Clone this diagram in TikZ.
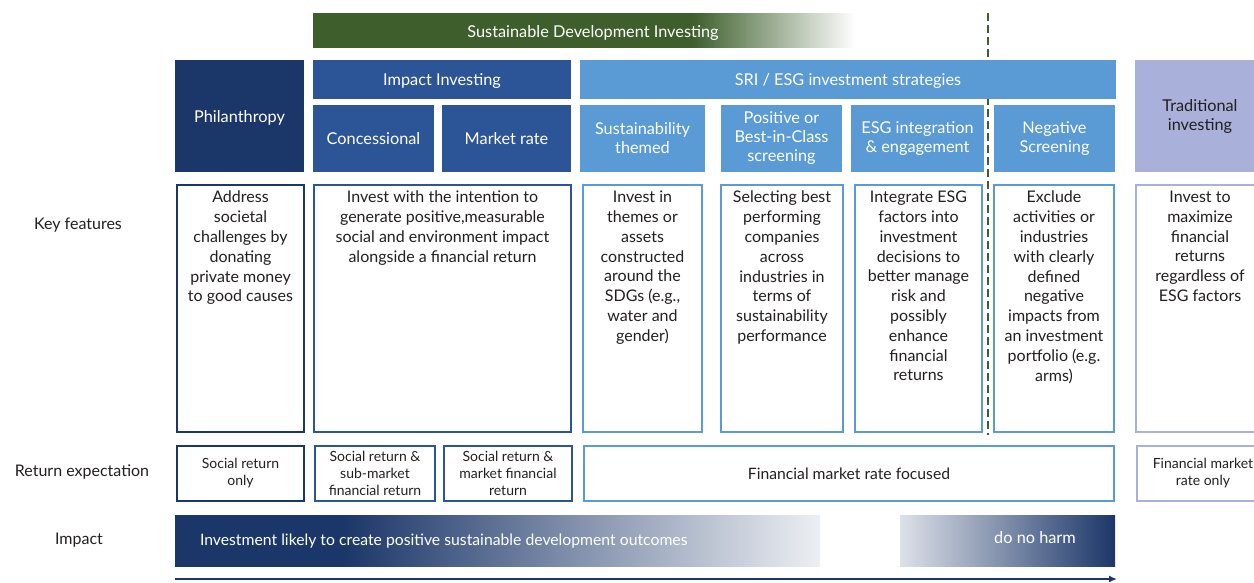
\documentclass[tikz,border=0pt]{standalone}
\usepackage{fontspec}
\setmainfont{Lato}
\usetikzlibrary{arrows.meta}

\definecolor{navy}{HTML}{1B3668}
\definecolor{impblue}{HTML}{2B5597}
\definecolor{esgblue}{HTML}{5B9BD5}
\definecolor{lavender}{HTML}{A9B0DA}
\definecolor{sdgreen}{HTML}{3E5F2C}
\definecolor{txt}{HTML}{231F20}

% fades for the green band and the impact bar
\pgfdeclarehorizontalshading{greenfade}{100bp}{color(0bp)=(sdgreen); color(60bp)=(sdgreen); color(75bp)=(white); color(100bp)=(white)}
\pgfdeclarehorizontalshading{impfade}{100bp}{color(0bp)=(navy); color(38bp)=(navy); color(75bp)=(white!92!navy); color(100bp)=(white!92!navy)}
\pgfdeclarehorizontalshading{harmfade}{100bp}{color(0bp)=(white!85!navy); color(25bp)=(white!85!navy); color(75bp)=(navy); color(100bp)=(navy)}

\tikzset{
  head/.style={inner sep=0pt, outer sep=0pt, text=white, align=center, font=\fontsize{16.3}{19}\selectfont},
  oneline/.style={text depth=0pt},
  featbox/.style={draw, line width=2.2pt, fill=white, inner sep=0pt},
  feat/.style={anchor=north, align=center, text=txt, inner sep=0pt, font=\fontsize{16}{19.8}\selectfont},
  retbox/.style={draw, line width=2.2pt, align=center, text=txt, inner sep=0pt, minimum height=55, font=\fontsize{14}{17}\selectfont},
  rowlabel/.style={text=txt, font=\fontsize{16}{19}\selectfont}
}

\begin{document}
\begin{tikzpicture}[x=1pt,y=-1pt]
    \useasboundingbox (0,0) rectangle (1254,582);
    \clip (0,0) rectangle (1254,582);

    % green band on top
    \shade [shading=greenfade] (313,13) rectangle (855,47);
    \node [head, oneline] (sdi) at (593,31) {Sustainable Development Investing};

    % dashed divider
    \coordinate (divtop) at (988,13);
    \coordinate (divbot) at (988,435);
    \draw [sdgreen, line width=2.5pt, dash pattern=on 8pt off 4pt] (divtop) -- (divbot);

    % headers
    \node [head, oneline, fill=navy, minimum width=129, minimum height=112] (phil) at (239.5,116) {Philanthropy};
    \node [head, oneline, fill=impblue, minimum width=258, minimum height=39] (impact) at (442,79.5) {Impact Investing};
    \node [head, oneline, fill=impblue, minimum width=121, minimum height=67] (conc) at (373.5,138.5) {Concessional};
    \node [head, oneline, fill=impblue, minimum width=129, minimum height=67] (mrate) at (506.5,138.5) {Market rate};
    \node [head, oneline, fill=esgblue, minimum width=536, minimum height=39] (sri) at (848,79.5) {SRI / ESG investment strategies};
    \node [head, fill=esgblue, minimum width=125, minimum height=67] (sust) at (642.5,138.5) {Sustainability\\themed};
    \node [head, fill=esgblue, minimum width=121, minimum height=67] (pos) at (781.5,138.5) {Positive or\\Best-in-Class\\screening};
    \node [head, fill=esgblue, minimum width=133, minimum height=67] (esgint) at (917.5,138.5) {ESG integration\\\& engagement};
    \node [head, fill=esgblue, minimum width=121, minimum height=67] (neg) at (1054.5,138.5) {Negative\\Screening};
    \node [head, fill=lavender, text=txt, minimum width=130, minimum height=112] (trad) at (1200,116) {Traditional\\investing};

    % key features
    \node [rowlabel] (lkey) at (78,225) {Key features};
    \node [featbox, draw=navy, minimum width=127, minimum height=247] (kphil) at (240.5,308.5) {};
    \node [featbox, draw=impblue, minimum width=257, minimum height=247] (kimp) at (442.5,308.5) {};
    \node [featbox, draw=esgblue, minimum width=119, minimum height=247] (ksust) at (642.5,308.5) {};
    \node [featbox, draw=esgblue, minimum width=122, minimum height=247] (kpos) at (782,308.5) {};
    \node [featbox, draw=esgblue, minimum width=127, minimum height=247] (kesg) at (918.5,308.5) {};
    \node [featbox, draw=esgblue, minimum width=120, minimum height=247] (kneg) at (1054,308.5) {};
    \node [featbox, draw=lavender, minimum width=133, minimum height=247] (ktrad) at (1202.5,308.5) {};

    \node [feat] (tphil) at ([yshift=-7pt]kphil.north) {Address\\societal\\challenges by\\donating\\private money\\to good causes};
    \node [feat] (timp) at ([yshift=-7pt]kimp.north) {Invest with the intention to\\generate positive,measurable\\social and environment impact\\alongside a financial return};
    \node [feat] (tsust) at ([yshift=-7pt]ksust.north) {Invest in\\themes or\\assets\\constructed\\around the\\SDGs (e.g.,\\water and\\gender)};
    \node [feat] (tpos) at ([yshift=-7pt]kpos.north) {Selecting best\\performing\\companies\\across\\industries in\\terms of\\sustainability\\performance};
    \node [feat] (tesg) at ([yshift=-7pt]kesg.north) {Integrate ESG\\factors into\\investment\\decisions to\\better manage\\risk and\\possibly\\enhance\\financial\\returns};
    \node [feat] (tneg) at ([yshift=-7pt]kneg.north) {Exclude\\activities or\\industries\\with clearly\\defined\\negative\\impacts from\\an investment\\portfolio (e.g.\\arms)};
    \node [feat] (ttrad) at ([xshift=-2.5pt,yshift=-7pt]ktrad.north) {Invest to\\maximize\\financial\\returns\\regardless of\\ESG factors};

    % return expectation
    \node [rowlabel] (lret) at (82,472) {Return expectation};
    \node [retbox, draw=navy, minimum width=127] (rphil) at (240.5,473.5) {Social return\\only};
    \node [retbox, draw=impblue, minimum width=120] (rconc) at (375,473.5) {Social return \&\\sub-market\\financial return};
    \node [retbox, draw=impblue, minimum width=128] (rmkt) at (508,473.5) {Social return \&\\market financial\\return};
    \node [retbox, draw=esgblue, minimum width=530, font=\fontsize{15.7}{19}\selectfont] (rfin) at (849,473.5) {Financial market rate focused};
    \node [retbox, draw=lavender, minimum width=132] (rtrad) at (1203,473.5) {Financial market\\rate only};

    % impact
    \node [rowlabel] (limp) at (79,540) {Impact};
    \shade [shading=impfade] (175,515) rectangle (820,566);
    \shade [shading=harmfade] (900,515) rectangle (1115,566);
    \node [head, oneline, anchor=west, font=\fontsize{15.75}{19}\selectfont] (outc) at (200,540) {Investment likely to create positive sustainable development outcomes};
    \node [head, oneline] (harm) at (1035,537) {do no harm};

    % axis
    \coordinate (axl) at (175,579);
    \coordinate (axr) at (1117,579);
    \draw [navy, line width=2pt, -{Latex[length=8pt,width=7pt]}] (axl) -- (axr);

\end{tikzpicture}
\end{document}
